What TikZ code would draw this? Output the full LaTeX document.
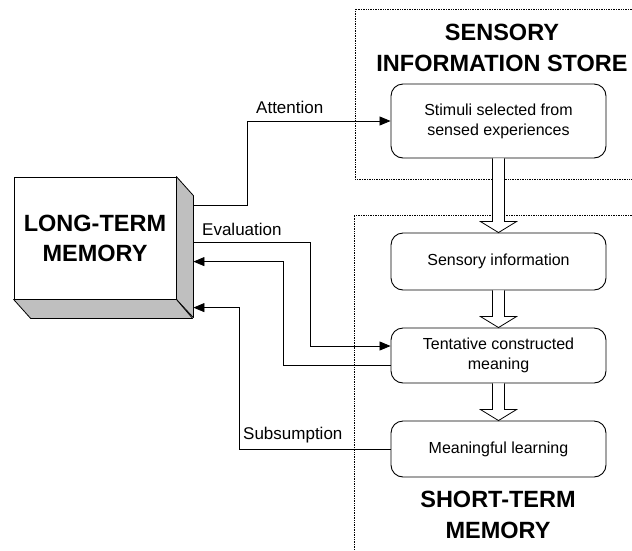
\documentclass[tikz,border=0pt]{standalone}
\usepackage{fontspec}
\setmainfont{Liberation Sans}
\usetikzlibrary{arrows.meta,calc}
% hollow block arrow from the bottom of one box to the top of the next
\newcommand\hollowarrow[2]{%
  \draw[hollow] let \p1=(#1.south), \p2=(#2.north) in
    (\x1-6pt,\y1) -- (\x1-6pt,\y2+11pt) -- (\x1-18pt,\y2+11pt) -- (\x1,\y2)
    -- (\x1+18pt,\y2+11pt) -- (\x1+6pt,\y2+11pt) -- (\x1+6pt,\y1);}
\begin{document}
\begin{tikzpicture}[x=1pt,y=-1pt,
  every node/.style={inner sep=0pt},
  procbox/.style={draw, fill=white, rounded corners=12pt, minimum width=215pt,
    line width=0.9pt, align=center, font=\fontsize{16}{20}\selectfont},
  heading/.style={align=center, font=\fontsize{23.5}{31}\selectfont\bfseries},
  conn/.style={line width=0.8pt, -{Triangle[length=11pt,width=9pt]}},
  lbl/.style={anchor=west, font=\fontsize{17}{20}\selectfont},
  region/.style={densely dotted, line width=0.7pt},
  hollow/.style={draw, fill=white, line width=0.8pt},
  face/.style={draw, fill=black!25, line width=0.8pt, line join=round}]
\useasboundingbox (0,0) rectangle (632,550);

% dotted store regions
\draw[region] (632,9) -- (355,9) -- (355,179) -- (632,179);
\draw[region] (632,215) -- (354,215) -- (354,550);

% region headings
\node[heading] (sens) at (502,48) {SENSORY\\INFORMATION STORE};
\node[heading] (stm) at (498,515) {SHORT-TERM\\MEMORY};

% process boxes
\node[procbox, minimum height=74pt] (stim) at (498.5,121) {Stimuli selected from\\sensed experiences};
\node[procbox, minimum height=57pt] (sinfo) at (498.5,261.5) {Sensory information};
\node[procbox, minimum height=55pt] (tent) at (498.5,355.5) {Tentative constructed\\meaning};
\node[procbox, minimum height=56pt] (mean) at (498.5,449) {Meaningful learning};

% block arrows between the boxes
\hollowarrow{stim}{sinfo}
\hollowarrow{sinfo}{tent}
\hollowarrow{tent}{mean}

% long-term memory block
\node[draw, fill=white, line width=0.8pt, minimum width=162pt, minimum height=122pt,
  align=center, font=\fontsize{23.5}{30}\selectfont\bfseries] (ltm) at (95,238) {LONG-TERM\\MEMORY};
\draw[face] (ltm.north east) -- ++(17,19) -- ++(0,122) -- (ltm.south east) -- cycle;
\draw[face] (ltm.south west) -- ++(17,19) -- ++(162,0) -- (ltm.south east) -- cycle;

% connectors
\draw[conn] ($(ltm.north east)+(17,29)$) -- ++(54,0) |- (stim.west);
\draw[conn] ($(ltm.north east)+(17,66)$) -- ++(117,0) |- ($(tent.west)+(0,-9.5)$);
\draw[conn] ($(tent.west)+(0,9.5)$) -| ($(ltm.north east)+(107,85)$) -- ($(ltm.north east)+(17,85)$);
\draw[conn] (mean.west) -| ($(ltm.north east)+(63,131)$) -- ($(ltm.north east)+(17,131)$);

% connector labels
\node[lbl] (latt) at (256,107) {Attention};
\node[lbl] (leval) at (202,229) {Evaluation};
\node[lbl] (lsub) at (243,435) {Subsumption};
\end{tikzpicture}
\end{document}
